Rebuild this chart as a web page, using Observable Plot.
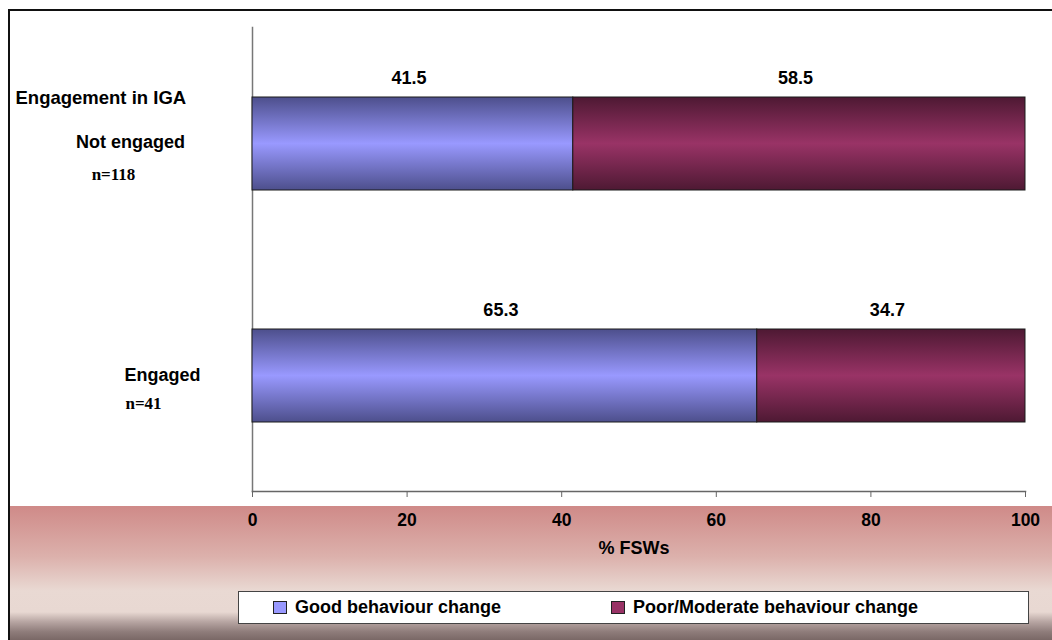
<!DOCTYPE html>
<html>
<head>
<meta charset="utf-8">
<script src="https://cdn.jsdelivr.net/npm/d3@7"></script>
<script src="https://cdn.jsdelivr.net/npm/@observablehq/plot@0.6"></script>
<style>
  html, body { margin: 0; padding: 0; background: #ffffff; overflow: hidden; }
  #wrap { position: relative; width: 1052px; height: 640px; overflow: hidden; background: #ffffff;
          font-family: "Liberation Sans", Arial, sans-serif; }
  #band { position: absolute; left: 9px; top: 506px; width: 1043px; height: 106px;
          background: linear-gradient(to bottom, #cf8a88 0%, #dcb1ac 48%, #e9d9d3 80%, #e8d8d2 100%); }
  #band2 { position: absolute; left: 9px; top: 612px; width: 1043px; height: 28px;
          background: linear-gradient(to bottom, #e8d8d2 0%, #b7a5a2 35%, #8f7d7b 70%, #7a6866 100%); }
  #frameTop { position: absolute; left: 8px; top: 9px; width: 1044px; height: 0; border-top: 2px solid #111; }
  #frameLeft { position: absolute; left: 8px; top: 9px; width: 0; height: 631px; border-left: 2px solid #111; }
  #plot { position: absolute; left: 0; top: 0; width: 1052px; height: 640px; overflow: hidden; }
  #legend { position: absolute; left: 238px; top: 591px; width: 791px; height: 33px; background: #fff;
            border: 1px solid #444; box-sizing: border-box; font-weight: bold; font-size: 18px; color: #000; }
  .item { position: absolute; top: 5px; display: flex; align-items: center; }
  .sw { width: 12px; height: 11px; border: 1px solid #222; margin-right: 8px; }
</style>
</head>
<body>
<div id="wrap">
  <div id="band"></div>
  <div id="band2"></div>
  <div id="frameTop"></div>
  <div id="frameLeft"></div>
  <div id="plot"></div>
  <div id="legend"></div>
</div>
<script>
// ---- data ----
const groups = ["Not engaged", "Engaged"];
const sampleSizes = ["n=118", "n=41"];
const seriesNames = ["Good behaviour change", "Poor/Moderate behaviour change"];
const goodValues = [41.5, 65.3];
const poorValues = [58.5, 34.7];
const xTicks = [0, 20, 40, 60, 80, 100];
const groupTitle = ["Engagement in IGA"];
const xLabel = ["% FSWs"];
const swatchColors = ["#9999ff", "#993366"];

const rows = [];
groups.forEach((g, i) => {
  rows.push({group: g, series: seriesNames[0], value: goodValues[i]});
  rows.push({group: g, series: seriesNames[1], value: poorValues[i]});
});

const font = '"Liberation Sans", Arial, sans-serif';
const serif = '"Liberation Serif", "Times New Roman", serif';

const plot = Plot.plot({
  width: 1052,
  height: 640,
  marginLeft: 252,
  marginRight: 27,
  marginTop: 27,
  marginBottom: 149,
  style: {background: "transparent", fontFamily: font, overflow: "visible"},
  x: {domain: [0, 100], ticks: xTicks, label: null, axis: null},
  y: {domain: groups, paddingInner: 0.6, paddingOuter: 0.296, axis: null},
  color: {domain: seriesNames, range: ["url(#gGood)", "url(#gPoor)"]},
  marks: [
    Plot.frame({anchor: "left", stroke: "#777", strokeWidth: 1.5}),
    Plot.axisX({ticks: xTicks, tickSize: 6, tickPadding: 16, stroke: "#666", fontSize: 17.5, fontWeight: "bold", fill: "#000", label: null}),
    Plot.frame({anchor: "bottom", stroke: "#666", strokeWidth: 1.5}),
    Plot.barX(rows, Plot.stackX({x: "value", y: "group", fill: "series", stroke: "#1a1a1a", strokeWidth: 1})),
    Plot.text(rows, Plot.stackX({x: "value", y: "group", text: d => d.value.toFixed(1), dy: -66, dx: -4,
      fontSize: 18, fontWeight: "bold", fill: "#000"})),
    // group labels
    Plot.text([groups[0]], {y: d => d, text: d => d, frameAnchor: "left", textAnchor: "middle", dx: -122, dy: -2, fontSize: 18, fontWeight: "bold", fill: "#000"}),
    Plot.text([groups[1]], {y: d => d, text: d => d, frameAnchor: "left", textAnchor: "middle", dx: -90, dy: -1, fontSize: 18, fontWeight: "bold", fill: "#000"}),
    Plot.text([sampleSizes[0]], {y: () => groups[0], text: d => d, frameAnchor: "left", textAnchor: "middle", dx: -139, dy: 31, fontSize: 17, fontWeight: "bold", fontFamily: serif, fill: "#000"}),
    Plot.text([sampleSizes[1]], {y: () => groups[1], text: d => d, frameAnchor: "left", textAnchor: "middle", dx: -109, dy: 28, fontSize: 17, fontWeight: "bold", fontFamily: serif, fill: "#000"}),
    Plot.text(groupTitle, {y: () => groups[0], text: d => d, frameAnchor: "left", textAnchor: "start", dx: -237, dy: -46, fontSize: 18.5, fontWeight: "bold", fill: "#000"}),
    Plot.text(xLabel, {text: d => d, frameAnchor: "bottom", dy: 62, dx: -5, fontSize: 18, fontWeight: "bold", fill: "#000"})
  ]
});

// gradients for the bars
const svg = d3.select(plot);
const defs = svg.insert("defs", ":first-child");
function grad(id, edge, mid) {
  const g = defs.append("linearGradient").attr("id", id).attr("x1", 0).attr("y1", 0).attr("x2", 0).attr("y2", 1);
  g.append("stop").attr("offset", "0%").attr("stop-color", edge);
  g.append("stop").attr("offset", "50%").attr("stop-color", mid);
  g.append("stop").attr("offset", "100%").attr("stop-color", edge);
}
grad("gGood", "#4d4f8c", "#9999ff");
grad("gPoor", "#4e1933", "#993366");

document.getElementById("plot").appendChild(plot);

// legend
const legend = d3.select("#legend");
const lx = [34, 372];
seriesNames.forEach((s, i) => {
  const it = legend.append("div").attr("class", "item").style("left", lx[i] + "px");
  it.append("div").attr("class", "sw").style("background", swatchColors[i]);
  it.append("span").text(s);
});
</script>
</body>
</html>
